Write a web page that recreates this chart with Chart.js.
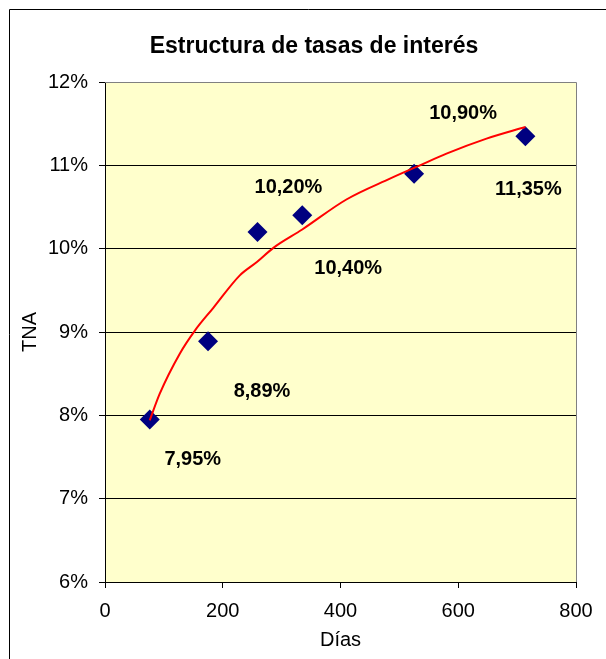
<!DOCTYPE html>
<html>
<head>
<meta charset="utf-8">
<script src="https://cdn.jsdelivr.net/npm/chart.js@4/dist/chart.umd.min.js"></script>
<style>
  html, body { margin: 0; padding: 0; background: #fff; }
  #wrap { width: 606px; height: 659px; }
</style>
</head>
<body>
<div id="wrap"><canvas id="grafico"></canvas></div>
<script>
// datos
var titulo = 'Estructura de tasas de interés';
var dias = [76, 175, 259, 335, 525, 714];
var tna = [7.95, 8.89, 10.20, 10.40, 10.90, 11.35];

// linea de tendencia
var tendDias = [76, 93, 127, 153, 184, 229, 258, 286, 335, 410, 484, 535, 580, 648, 714];
var tendTna = [7.94, 8.26, 8.74, 9.02, 9.29, 9.68, 9.84, 10.01, 10.23, 10.59, 10.84, 11.00, 11.14, 11.32, 11.46];

var yTicks = [6, 7, 8, 9, 10, 11, 12];
var xTicks = [0, 200, 400, 600, 800];

// desplazamiento de las etiquetas respecto de cada punto
var offsets = [[43, 40], [54, 50], [31, -45], [46, 53], [49, -60], [3, 53]];

function puntos(xs, ys) {
  var p = [];
  for (var i = 0; i < xs.length; i++) {
    p.push({x: xs[i], y: ys[i]});
  }
  return p;
}

var fondo = {
  id: 'fondo',
  beforeDraw: function(chart) {
    var ctx = chart.ctx, a = chart.chartArea;
    ctx.save();
    ctx.fillStyle = '#fff';
    ctx.fillRect(0, 0, chart.width, chart.height);
    ctx.strokeStyle = '#000';
    ctx.lineWidth = 1;
    ctx.beginPath();
    ctx.moveTo(9.5, chart.height + 2);
    ctx.lineTo(9.5, 9.5);
    ctx.lineTo(chart.width + 2, 9.5);
    ctx.stroke();
    ctx.fillStyle = '#FFFFCC';
    ctx.fillRect(a.left, a.top, a.right - a.left, a.bottom - a.top);
    // titulo
    ctx.fillStyle = '#000';
    ctx.font = 'bold 23px "Liberation Sans", Arial, sans-serif';
    ctx.textAlign = 'center';
    ctx.textBaseline = 'alphabetic';
    ctx.fillText(titulo, 314, 53);
    ctx.restore();
  },
  afterDraw: function(chart) {
    var ctx = chart.ctx, a = chart.chartArea;
    ctx.save();
    ctx.strokeStyle = '#808080';
    ctx.lineWidth = 1;
    ctx.beginPath();
    ctx.moveTo(a.left, a.top + 0.5);
    ctx.lineTo(a.right + 0.5, a.top + 0.5);
    ctx.lineTo(a.right + 0.5, a.bottom);
    ctx.stroke();
    ctx.restore();
  }
};

var etiquetas = {
  id: 'etiquetas',
  afterDatasetsDraw: function(chart) {
    var ctx = chart.ctx;
    var meta = chart.getDatasetMeta(0);
    ctx.save();
    ctx.font = 'bold 20px "Liberation Sans", Arial, sans-serif';
    ctx.fillStyle = '#000';
    ctx.textAlign = 'center';
    ctx.textBaseline = 'middle';
    for (var i = 0; i < meta.data.length; i++) {
      var el = meta.data[i];
      var txt = tna[i].toFixed(2).replace('.', ',') + '%';
      ctx.fillText(txt, el.x + offsets[i][0], el.y + offsets[i][1]);
    }
    ctx.restore();
  }
};

new Chart(document.getElementById('grafico'), {
  type: 'scatter',
  data: {
    datasets: [{
      label: 'TNA',
      data: puntos(dias, tna),
      pointStyle: 'rectRot',
      pointRadius: 10,
      pointHoverRadius: 10,
      backgroundColor: '#000080',
      borderColor: '#000080',
      borderWidth: 0,
      order: 2
    }, {
      label: 'Tendencia',
      type: 'line',
      data: puntos(tendDias, tendTna),
      borderColor: '#FF0000',
      borderWidth: 2,
      pointRadius: 0,
      fill: false,
      cubicInterpolationMode: 'monotone',
      order: 1
    }]
  },
  options: {
    responsive: true,
    maintainAspectRatio: false,
    animation: false,
    layout: { padding: { top: 82, left: 0, right: 30, bottom: 0 } },
    plugins: {
      legend: { display: false },
      tooltip: { enabled: false },
      title: { display: false }
    },
    scales: {
      x: {
        type: 'linear',
        min: 0,
        max: 800,
        afterBuildTicks: function(s) { s.ticks = xTicks.map(function(v) { return {value: v}; }); },
        afterFit: function(s) { s.height = 77; },
        grid: { drawOnChartArea: false, drawTicks: true, tickLength: 6, tickColor: '#000' },
        border: { display: true, color: '#000' },
        ticks: {
          color: '#000',
          padding: 11,
          maxRotation: 0,
          font: { family: '"Liberation Sans", Arial, sans-serif', size: 20 }
        },
        title: {
          display: true,
          text: 'Días',
          color: '#000',
          font: { family: '"Liberation Sans", Arial, sans-serif', size: 20 },
          padding: { top: 0, bottom: 7 }
        }
      },
      y: {
        type: 'linear',
        min: 6,
        max: 12,
        afterBuildTicks: function(s) { s.ticks = yTicks.map(function(v) { return {value: v}; }); },
        afterFit: function(s) { s.width = 105; },
        grid: {
          color: function(c) { return c.tick && c.tick.value === 12 ? '#808080' : '#000'; },
          drawTicks: true,
          tickLength: 6,
          tickColor: '#000'
        },
        border: { display: true, color: '#000' },
        ticks: {
          color: '#000',
          padding: 11,
          font: { family: '"Liberation Sans", Arial, sans-serif', size: 20 },
          callback: function(v) { return v + '%'; }
        },
        title: {
          display: true,
          text: 'TNA',
          color: '#000',
          font: { family: '"Liberation Sans", Arial, sans-serif', size: 20 },
          padding: { top: 18, bottom: 0 }
        }
      }
    }
  },
  plugins: [fondo, etiquetas]
});
</script>
</body>
</html>
